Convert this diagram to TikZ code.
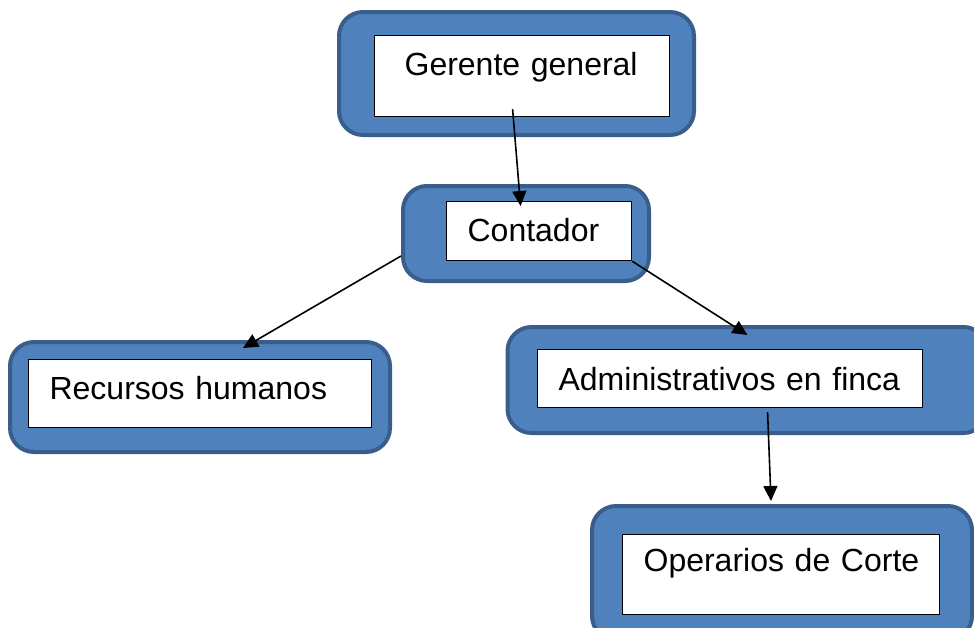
\documentclass[tikz,border=0pt]{standalone}
\usepackage{fontspec}
\setmainfont{Liberation Sans}
\usetikzlibrary{arrows.meta}
\definecolor{boxfill}{RGB}{79,129,189}
\definecolor{boxline}{RGB}{58,94,140}
\tikzset{outer box/.style={
    rectangle, rounded corners=12pt,
    fill=boxfill, draw=boxline, line width=2pt,
    inner sep=0pt
}}
\tikzset{inner box/.style={
    anchor=north west, rectangle,
    fill=white, draw=black, line width=0.6pt,
    inner xsep=10.5pt, inner ysep=0pt, align=left,
    font=\fontsize{16}{19}\selectfont
}}
\tikzset{link/.style={
    -{Triangle[length=7.5pt,width=7pt]}, line width=0.8pt, draw=black
}}

\begin{document}
\begin{tikzpicture}[x=0.5pt,y=-0.5pt]
            \useasboundingbox (0,0) rectangle (974,627);
            \clip (0,0) rectangle (974,627);

            \node (gerbg)  [outer box, minimum width=177.5pt, minimum height=61.5pt] at(516.5,73.5) {};
            \node (contbg) [outer box, minimum width=123pt, minimum height=47.5pt]   at(526,233.5)  {};
            \node (recbg)  [outer box, minimum width=190pt, minimum height=55pt]     at(200,397)    {};
            \node (admbg)  [outer box, minimum width=240pt, minimum height=53pt]     at(747.5,380)  {};
            \node (opbg)   [outer box, minimum width=190pt, minimum height=67pt]     at(782,573)    {};

            \node (gerente)  [inner box, inner xsep=15pt, text width=117.5pt,
                              text height=20pt, text depth=20.5pt] at(374,35)  {\mbox{Gerente general}};
            \node (contador) [inner box, text width=71.5pt,
                              text height=20pt, text depth=9.5pt]  at(446,201) {\mbox{Contador}};
            \node (recursos) [inner box, text width=150.5pt,
                              text height=20pt, text depth=14pt]   at(28,359)  {\mbox{Recursos humanos}};
            \node (admin)    [inner box, text width=171.5pt,
                              text height=20.5pt, text depth=8.5pt] at(537,349) {\mbox{Administrativos en finca}};
            \node (operarios) [inner box, text width=137.5pt,
                              text height=18.5pt, text depth=21.5pt] at(622,534) {\mbox{Operarios de Corte}};

            % edges
            \draw [link] ([xshift=-4.75pt,yshift=4pt]gerente.south) -- ([xshift=-9.25pt,yshift=-2.5pt]contador.north);
            \draw [link] ([yshift=-11.25pt]contbg.west) -- ([xshift=21.5pt,yshift=-4pt]recbg.north);
            \draw [link] (contador.south east) -- ([yshift=-5pt]admbg.north);
            \draw [link] ([xshift=18.75pt,yshift=-2pt]admin.south) -- ([xshift=-5.5pt,yshift=1.5pt]opbg.north);
\end{tikzpicture}
\end{document}
